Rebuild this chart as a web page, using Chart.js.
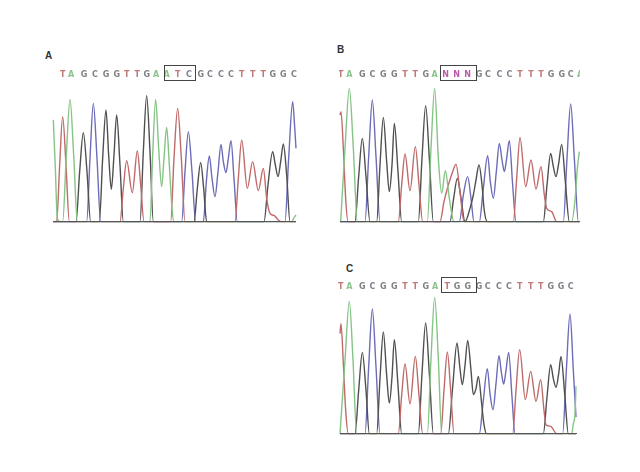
<!DOCTYPE html>
<html lang="en">
<head>
<meta charset="UTF-8">
<title>Sequencing chromatograms</title>
<script src="https://cdnjs.cloudflare.com/ajax/libs/Chart.js/4.4.1/chart.umd.min.js"></script>
<style>
  html, body { margin: 0; background: #fff; }
  #page { position: relative; width: 640px; height: 472px; overflow: hidden; }
  canvas { position: absolute; filter: blur(0.55px); }
  #chartB { clip-path: inset(0 10px 0 9.5px); }
  .tag { position: absolute; font: bold 10px "Liberation Sans", Arial, sans-serif; color: #333; }
</style>
</head>
<body>
<div id="page">
  <div class="tag" style="left:45px;top:50px">A</div>
  <div class="tag" style="left:337px;top:44px">B</div>
  <div class="tag" style="left:346px;top:263px">C</div>
  <canvas id="chartA" width="270" height="190" style="left:40px;top:40px"></canvas>
  <canvas id="chartB" width="260" height="190" style="left:330px;top:40px"></canvas>
  <canvas id="chartC" width="260" height="190" style="left:330px;top:258px"></canvas>
</div>

<script>
// base calls and where they sit on the scan axis
const aBases = ['T','A','G','C','G','G','T','T','G','A','A','T','C','G','C','C','C','T','T','T','G','G','C'];
const aScan = [68,93,132,165,198,230,260,292,320,348,380,413,447,482,510,543,573,605,638,670,698,730,762];
const bBases = ['T','A','G','C','G','G','T','T','G','A','N','N','N','G','C','C','C','T','T','T','G','G','C','A'];
const bScan = [32,58,97,127,160,193,225,256,287,314,347,380,413,447,474,508,538,570,603,633,663,695,722,750];
const cBases = ['T','A','G','C','G','G','T','T','G','A','T','G','G','G','C','C','C','T','T','T','G','G','C'];
const cScan = [32,58,97,127,160,193,225,256,287,315,352,381,413,447,473,507,537,569,602,632,662,693,722];

// traces: [scan position, signal]
const aGreen = [[40,305],[46,160],[52,10],[60,0],[68,0],[79,200],[90,367],[101,200],[112,0],[330,0],[338,200],[347,367],[356,220],[365,105],[372,190],[380,283],[388,170],[396,40],[402,0],[755,0],[762,12],[768,20]];
const aRed = [[40,0],[50,0],[59,170],[68,315],[78,170],[88,0],[240,0],[250,100],[260,183],[277,87],[292,212],[302,110],[312,0],[392,0],[402,190],[413,340],[424,190],[435,0],[585,0],[595,130],[605,245],[622,100],[638,180],[655,93],[670,160],[680,70],[690,25],[703,18],[715,5],[725,0],[768,0]];
const aBlack = [[40,0],[108,0],[119,150],[130,267],[141,150],[152,0],[178,0],[188,190],[198,335],[206,200],[214,97],[222,200],[230,320],[240,170],[250,0],[300,0],[310,210],[320,378],[330,210],[340,0],[462,0],[472,100],[482,177],[491,100],[500,0],[672,0],[684,110],[698,210],[706,170],[714,135],[722,180],[730,233],[740,140],[750,0],[768,0]];
const aBlue = [[40,0],[140,0],[150,190],[160,355],[171,190],[182,0],[425,0],[435,150],[445,270],[456,150],[467,0],[490,0],[499,120],[508,197],[516,130],[525,75],[534,150],[543,232],[550,180],[558,147],[565,190],[573,243],[582,130],[592,0],[735,0],[746,190],[758,360],[763,300],[768,220]];

const bGreen = [[32,0],[45,220],[58,400],[70,220],[82,0],[292,0],[303,220],[314,400],[325,190],[335,85],[346,153],[358,70],[372,0],[725,0],[735,65],[742,160],[748,210]];
const bRed = [[30,320],[33,330],[40,220],[47,70],[54,0],[205,0],[215,110],[225,203],[240,93],[256,225],[267,110],[278,0],[330,0],[342,60],[355,110],[368,150],[378,172],[390,90],[402,0],[550,0],[560,130],[570,253],[587,105],[603,185],[618,98],[633,165],[643,80],[650,40],[665,30],[680,0],[748,0]];
const bBlack = [[30,0],[75,0],[86,135],[97,250],[108,135],[120,0],[140,0],[150,170],[160,313],[170,180],[178,90],[186,170],[193,295],[204,150],[215,0],[265,0],[276,190],[287,348],[298,190],[310,0],[360,0],[371,70],[382,130],[393,70],[405,0],[420,40],[430,80],[438,125],[447,170],[457,100],[462,40],[472,0],[640,0],[651,110],[662,205],[670,165],[678,135],[686,175],[695,232],[706,120],[718,0],[748,0]];
const bBlue = [[30,0],[105,0],[116,195],[127,365],[138,195],[150,0],[388,0],[400,80],[413,135],[423,70],[432,0],[448,0],[460,100],[473,198],[481,120],[490,70],[499,150],[508,235],[516,185],[523,150],[530,190],[538,243],[548,110],[558,0],[700,0],[711,190],[722,353],[733,190],[745,0],[748,0]];

const cGreen = [[30,0],[45,220],[58,397],[69,220],[80,0],[292,0],[303,225],[314,409],[325,225],[335,0],[725,0],[730,30],[735,60],[738,142]];
const cRed = [[30,300],[33,330],[40,210],[47,70],[55,0],[205,0],[215,115],[225,209],[240,89],[256,232],[267,115],[278,0],[332,0],[342,130],[352,245],[362,130],[372,0],[548,0],[558,130],[569,252],[586,102],[602,187],[618,97],[632,162],[642,70],[648,27],[662,22],[680,0],[738,0]];
const cBlack = [[30,0],[75,0],[86,130],[97,244],[108,130],[118,0],[140,0],[150,165],[160,305],[170,175],[178,92],[186,170],[193,282],[204,145],[215,0],[265,0],[276,180],[287,332],[298,180],[310,0],[355,0],[368,140],[381,272],[390,195],[397,147],[405,205],[413,280],[423,190],[430,117],[438,135],[445,172],[455,90],[462,27],[470,0],[640,0],[651,110],[662,207],[670,165],[678,139],[686,180],[693,232],[704,120],[715,0],[738,0]];
const cBlue = [[30,0],[105,0],[116,200],[127,374],[138,200],[150,0],[448,0],[460,100],[472,195],[480,120],[489,72],[498,150],[507,234],[514,185],[521,149],[528,190],[536,244],[546,110],[555,0],[698,0],[709,190],[720,359],[730,190],[738,50]];

const lineColor = { green: '#86c486', red: '#c06a6a', black: '#505050', blue: '#6c6cb8' };
const baseColor = { T: '#c07a7a', A: '#8cc48c', G: '#808080', C: '#80808c', N: '#b85aa8' };

// draws the codon box above the plot
const codonBox = {
  id: 'codonBox',
  afterDraw(chart, args, opts) {
    const x = chart.scales.x, top = chart.chartArea.top;
    const c = chart.ctx;
    c.save();
    c.strokeStyle = '#444';
    c.lineWidth = 1;
    const l = Math.round(x.getPixelForValue(opts.from)) + 0.5;
    const r = Math.round(x.getPixelForValue(opts.to)) + 0.5;
    c.strokeRect(l, Math.round(top) - 19.5, r - l, 15);
    c.restore();
  }
};

function panel(id, bases, scan, traces, xMin, xMax, left, w, head, foot, box) {
  const tr = (data, color) => ({
    data: data.map(p => ({ x: p[0], y: p[1] })),
    borderColor: color, borderWidth: 1.4,
    pointRadius: 0, cubicInterpolationMode: 'monotone', clip: false
  });
  new Chart(document.getElementById(id), {
    type: 'line',
    data: { datasets: [
      tr(traces[0], lineColor.green), tr(traces[1], lineColor.red),
      tr(traces[2], lineColor.black), tr(traces[3], lineColor.blue)
    ] },
    options: {
      responsive: false,
      animation: false,
      events: [],
      layout: { padding: { left: left, right: w - left - (xMax - xMin) / 3, top: 0, bottom: foot } },
      plugins: { legend: { display: false }, tooltip: { enabled: false }, codonBox: { from: box[0], to: box[1] } },
      scales: {
        x: {
          type: 'linear', position: 'top', min: xMin, max: xMax,
          grid: { display: false, drawTicks: false }, border: { display: false },
          afterBuildTicks: s => { s.ticks = scan.map(v => ({ value: v })); },
          afterFit: s => { s.height = head; },
          ticks: {
            autoSkip: false, maxRotation: 0, padding: 5,
            font: { family: '"DejaVu Sans"', size: 8, weight: 'bold' },
            callback: (v, i) => bases[i],
            color: ctx => baseColor[bases[ctx.index]]
          }
        },
        x2: {
          type: 'linear', position: 'bottom', min: xMin, max: xMax,
          grid: { display: false, drawTicks: false },
          border: { display: true, color: '#555', width: 1, z: 1 },
          ticks: { display: false },
          afterFit: s => { s.height = 0; }
        },
        y: { display: false, min: 0, max: 410 }
      }
    },
    plugins: [codonBox]
  });
}

panel('chartA', aBases, aScan, [aGreen, aRed, aBlack, aBlue], 40, 768, 13.33, 270, 45, 8.33, [372, 464]);
panel('chartB', bBases, bScan, [bGreen, bRed, bBlack, bBlue], 30, 748, 10, 260, 45, 8.33, [331, 438]);
panel('chartC', cBases, cScan, [cGreen, cRed, cBlack, cBlue], 30, 738, 10, 260, 39, 14.33, [332, 438]);
</script>
</body>
</html>
